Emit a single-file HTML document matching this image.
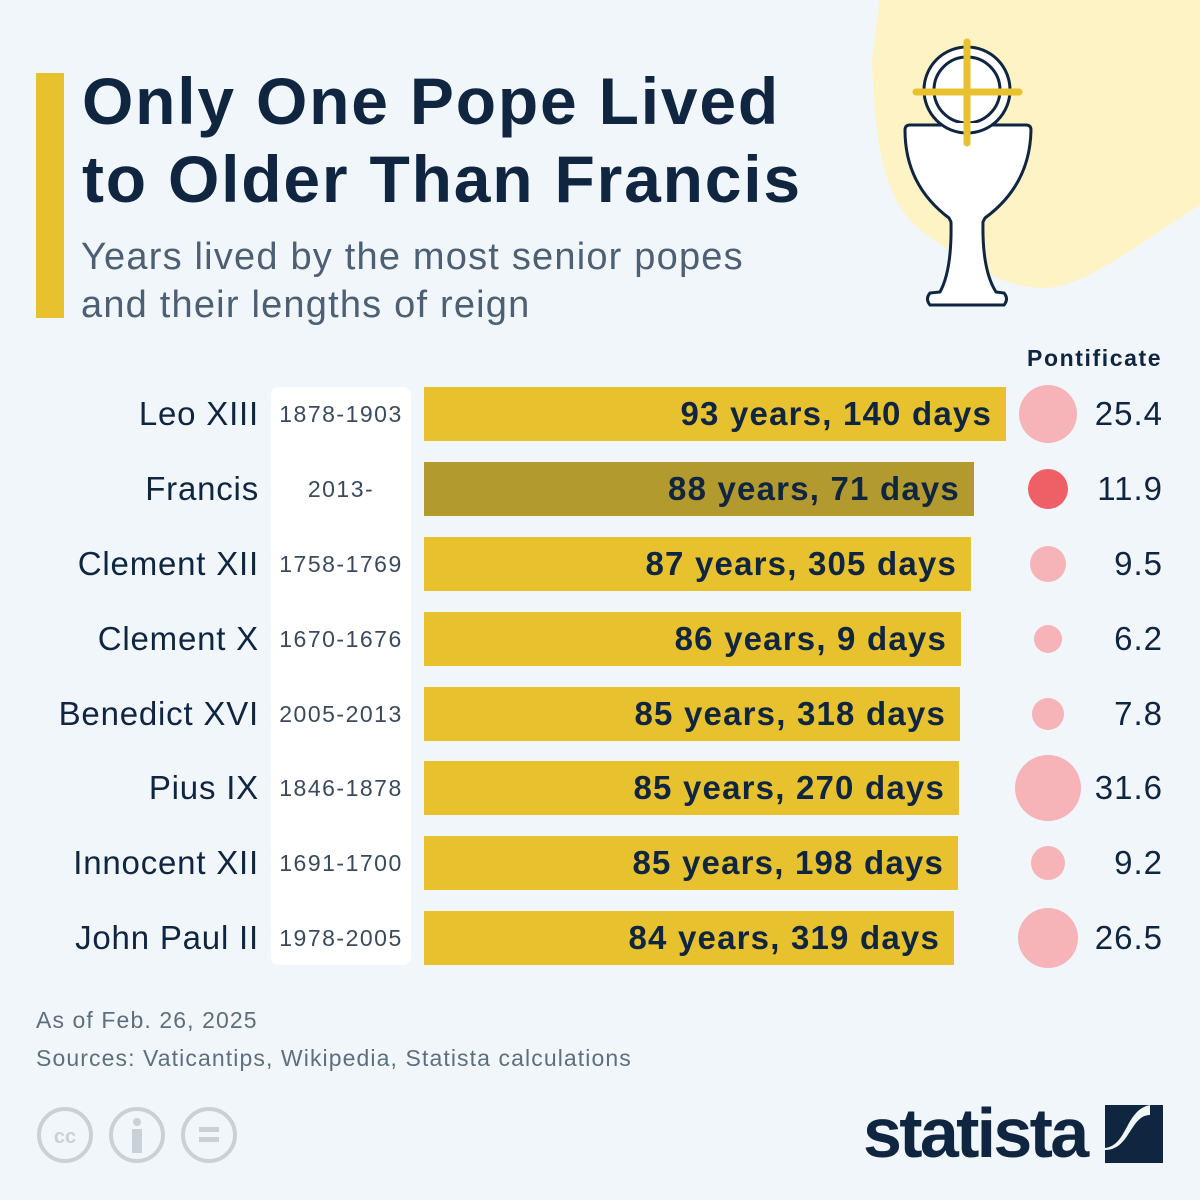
<!DOCTYPE html>
<html><head><meta charset="utf-8"><style>
body{margin:0;width:1200px;height:1200px;background:#f1f6fa;font-family:"Liberation Sans",sans-serif;overflow:hidden;position:relative}
.a{position:absolute;white-space:nowrap}
</style></head><body>
<svg class="a" style="left:0;top:0" width="1200" height="1200">
<path d="M880,0 L1200,0 L1200,205 C1130,250 1080,290 1040,288 C990,285 950,250 920,230 C885,200 875,150 872,60 Z" fill="#fdf3c4"/>
<rect x="36" y="73" width="28" height="245" fill="#e8c22e"/>
<g stroke="#0f2540" stroke-width="3" fill="#fff">
<path d="M905,130 Q905,125 910,125 L1026,125 Q1031,125 1031,130 Q1030,185 985,218 L983,222 Q982,270 996,292 L1004,293 Q1009,299 1004,305 L930,305 Q925,299 930,293 L940,292 Q952,270 951,222 L949,218 Q905,185 905,130 Z"/>
<circle cx="967" cy="90" r="43"/><circle cx="967" cy="90" r="33"/>
</g>
<rect x="952" y="123" width="30" height="5" fill="#fff"/>
<g stroke="#e8c22e" stroke-width="7" stroke-linecap="round"><line x1="967" y1="42" x2="967" y2="143"/><line x1="916" y1="92" x2="1019" y2="92"/></g>
<rect x="271" y="387" width="140" height="578" rx="8" fill="#fff"/>
<g fill="#e8c22e">
<rect x="424" y="387" width="582" height="54"/>
<rect x="424" y="462" width="550" height="54" fill="#b39a2f"/>
<rect x="424" y="537" width="547" height="54"/>
<rect x="424" y="612" width="537" height="54"/>
<rect x="424" y="687" width="536" height="54"/>
<rect x="424" y="761" width="535" height="54"/>
<rect x="424" y="836" width="534" height="54"/>
<rect x="424" y="911" width="530" height="54"/>
</g>
<g fill="#f6b3b8">
<circle cx="1048" cy="414" r="29"/><circle cx="1048" cy="489" r="20" fill="#ef5f66"/>
<circle cx="1048" cy="564" r="18"/><circle cx="1048" cy="639" r="14"/>
<circle cx="1048" cy="714" r="16"/><circle cx="1048" cy="788" r="33"/>
<circle cx="1048" cy="863" r="17"/><circle cx="1048" cy="938" r="30"/>
</g>
<g fill="none" stroke="#c9d0d6" stroke-width="4"><circle cx="65" cy="1135" r="26"/><circle cx="137" cy="1135" r="26"/><circle cx="209" cy="1135" r="26"/></g>
<text x="65" y="1143" font-size="20" font-weight="bold" fill="#c9d0d6" text-anchor="middle" font-family="Liberation Sans">cc</text>
<g fill="#c9d0d6"><circle cx="137" cy="1122" r="4"/><rect x="132" y="1129" width="10" height="24"/><rect x="199" y="1127" width="20" height="5"/><rect x="199" y="1137" width="20" height="5"/>
</g>
<path d="M1105,1105 L1163,1105 L1163,1163 L1105,1163 L1105,1150 C1130,1150 1130,1115 1150,1115 L1150,1105 Z" fill="#0f2540"/>
<path d="M1105,1105 L1150,1105 C1125,1110 1128,1145 1105,1148 Z" fill="#0f2540"/>
</svg>
<div class="a" style="left:82px;top:62px;font-size:66px;font-weight:bold;color:#0f2540;line-height:78px;letter-spacing:1.8px">Only One Pope Lived<br>to Older Than Francis</div>
<div class="a" style="left:81px;top:233px;font-size:38px;color:#4d5f73;line-height:48px;letter-spacing:1.2px">Years lived by the most senior popes<br>and their lengths of reign</div>
<div class="a" style="left:1027px;top:345px;font-size:23px;font-weight:bold;color:#0f2540;letter-spacing:1.6px">Pontificate</div>
<div id="rows"></div>
<div class="a" style="left:36px;top:1001px;font-size:23px;color:#5e6e7e;line-height:38px;letter-spacing:1.1px">As of Feb. 26, 2025<br>Sources: Vaticantips, Wikipedia, Statista calculations</div>
<div class="a" style="left:863px;top:1093px;font-size:70px;font-weight:bold;color:#0f2540;letter-spacing:-2.7px">statista</div>
<script>
var d=[["Leo XIII","1878-1903","93 years, 140 days",1006,"25.4"],["Francis","2013-","88 years, 71 days",974,"11.9"],["Clement XII","1758-1769","87 years, 305 days",971,"9.5"],["Clement X","1670-1676","86 years, 9 days",961,"6.2"],["Benedict XVI","2005-2013","85 years, 318 days",960,"7.8"],["Pius IX","1846-1878","85 years, 270 days",959,"31.6"],["Innocent XII","1691-1700","85 years, 198 days",958,"9.2"],["John Paul II","1978-2005","84 years, 319 days",954,"26.5"]];
var h="",ys=[414,489,564,639,714,788,863,938];
d.forEach(function(r,i){var y=ys[i];
h+='<div class="a" style="right:941px;top:'+(y-20)+'px;font-size:33px;color:#0f2540;line-height:40px;letter-spacing:0.8px">'+r[0]+'</div>';
h+='<div class="a" style="left:271px;width:140px;text-align:center;top:'+(y-14)+'px;font-size:23px;color:#3a4a5c;line-height:28px;letter-spacing:1.5px">'+r[1]+'</div>';
h+='<div class="a" style="right:'+(1200-r[3]+14)+'px;top:'+(y-20)+'px;font-size:33px;font-weight:bold;color:#0f2540;line-height:40px;letter-spacing:1.2px">'+r[2]+'</div>';
h+='<div class="a" style="right:37px;top:'+(y-20)+'px;font-size:33px;color:#0f2540;line-height:40px;letter-spacing:1px">'+r[4]+'</div>';});
document.getElementById("rows").innerHTML=h;
</script>
</body></html>
